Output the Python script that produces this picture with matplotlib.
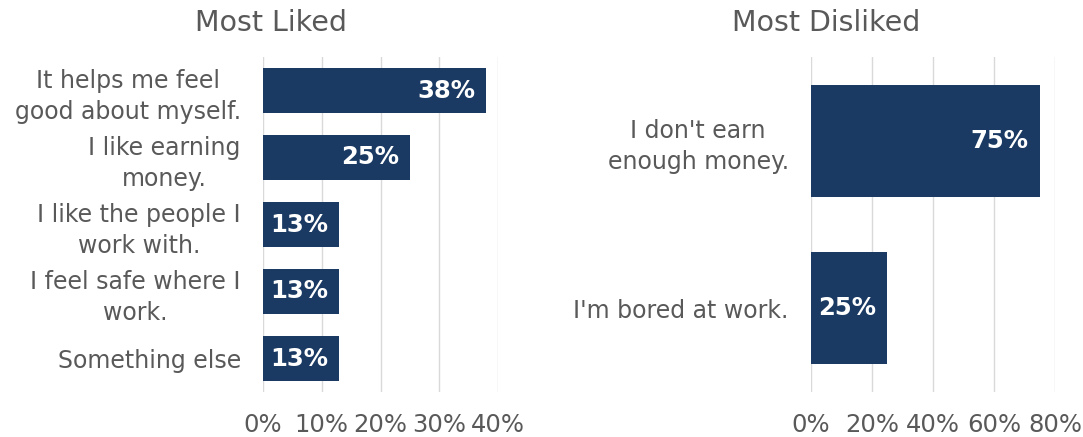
import matplotlib.pyplot as plt
from matplotlib.ticker import FuncFormatter

# survey answers, top to bottom
liked_labels = ["It helps me feel\ngood about myself.", "I like earning\nmoney.",
                "I like the people I\nwork with.", "I feel safe where I\nwork.", "Something else"]
liked_values = [38, 25, 13, 13, 13]
liked_ticks = [0, 10, 20, 30, 40]

disliked_labels = ["I don't earn\nenough money.", "I'm bored at work."]
disliked_values = [75, 25]
disliked_ticks = [0, 20, 40, 60, 80]

BAR = "#1a3a63"
GREY = "#595959"
GRID = "#d9d9d9"

fig = plt.figure(figsize=(10.83, 4.37), dpi=100)
ax1 = fig.add_axes([263 / 1083, 1 - 392 / 437, 235 / 1083, 335 / 437])
ax2 = fig.add_axes([811 / 1083, 1 - 392 / 437, 244 / 1083, 335 / 437])


def draw_panel(ax, labels, values, ticks):
    ypos = list(range(len(labels)))
    ax.barh(ypos, values, height=0.67, color=BAR, zorder=3)
    ax.set_ylim(len(labels) - 0.5, -0.5)
    ax.set_xlim(ticks[0], ticks[-1])
    ax.set_xticks(ticks)
    ax.xaxis.set_major_formatter(FuncFormatter(lambda v, p: f"{v:.0f}%"))
    ax.set_yticks(ypos)
    ax.set_yticklabels(labels, fontsize=17, color=GREY, linespacing=1.38,
                       multialignment="center")
    ax.tick_params(axis="y", length=0, pad=16)
    ax.tick_params(axis="x", length=0, pad=15, labelsize=17.5, labelcolor=GREY)
    ax.grid(axis="x", color=GRID, lw=1, zorder=0)
    for s in ax.spines.values():
        s.set_visible(False)
    for y, v in zip(ypos, values):
        ax.annotate(f"{v}%", (v, y), xytext=(-8, 0), textcoords="offset points",
                    ha="right", va="center", color="white", fontsize=17.5,
                    fontweight="bold", zorder=4)


draw_panel(ax1, liked_labels, liked_values, liked_ticks)
draw_panel(ax2, disliked_labels, disliked_values, disliked_ticks)

fig.text(271 / 1083, 1 - 23 / 437, "Most Liked", ha="center", va="center",
         fontsize=20.5, color=GREY)
fig.text(826 / 1083, 1 - 23 / 437, "Most Disliked", ha="center", va="center",
         fontsize=20.5, color=GREY)

fig.savefig("out.png", dpi=100)
